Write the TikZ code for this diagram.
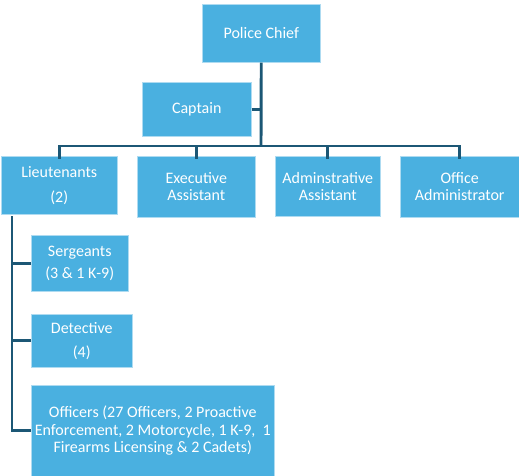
\documentclass[tikz,border=0pt]{standalone}
\usepackage{fontspec}
\setmainfont{Carlito}
\definecolor{boxblue}{HTML}{4AB0E0}
\definecolor{linkblue}{HTML}{1C5775}

\begin{document}
\begin{tikzpicture}[x=0.75pt,y=-0.75pt,font=\fontsize{12}{13}\selectfont,
  unit/.style={fill=boxblue, draw=white!55!boxblue, thin, text=white, align=center,
    inner sep=1pt, anchor=north west},
  link/.style={draw=linkblue, line width=2.2pt}]

\useasboundingbox (0,0) rectangle (519,476);

% top level
\node[unit, minimum width=88.5pt, minimum height=43.5pt] (chief) at (202,4) {Police Chief};
\node[unit, minimum width=81.75pt, minimum height=40.5pt] (captain) at (142,82) {Captain};

% second row
\node[unit, minimum width=87pt, minimum height=43.5pt] (lieut) at (1,156) {Lieutenants\\[5.5pt](2)};
\node[unit, minimum width=88.5pt, minimum height=45.75pt] (exec) at (137,156) {Executive\\Assistant};
\node[unit, minimum width=78.75pt, minimum height=45pt] (admin) at (275,156) {Adminstrative\\Assistant};
\node[unit, minimum width=89.25pt, minimum height=45.75pt] (office) at (400,156) {Office\\Administrator};

% under the lieutenants
\node[unit, minimum width=72.75pt, minimum height=42pt] (serg) at (31,235) {Sergeants\\[4pt](3 \& 1 K-9)};
\node[unit, minimum width=75.75pt, minimum height=39.75pt] (det) at (31,314) {Detective\\[5pt](4)};
\node[unit, minimum width=182.25pt, minimum height=68.25pt] (off) at (31,385)
  {Officers (27 Officers, 2 Proactive\\Enforcement, 2 Motorcycle, 1 K-9,~ 1\\Firearms Licensing \& 2 Cadets)};

% connectors
\coordinate (bus) at (261,146);
\coordinate (spine) at (12,216);

\draw[link] (chief.south) -- (bus);
\draw[link] (captain.east) -- (captain.east -| bus);
\draw[link] ([yshift=-2pt]lieut.north) |- (bus) -| ([yshift=-2pt]office.north);
\foreach \n in {exec,admin}
  \draw[link] ([yshift=-2pt]\n.north) -- (\n.north |- bus);

\draw[link] (spine) |- (off.west);
\foreach \n in {serg,det}
  \draw[link] (\n.west) -- (\n.west -| spine);

\end{tikzpicture}
\end{document}
